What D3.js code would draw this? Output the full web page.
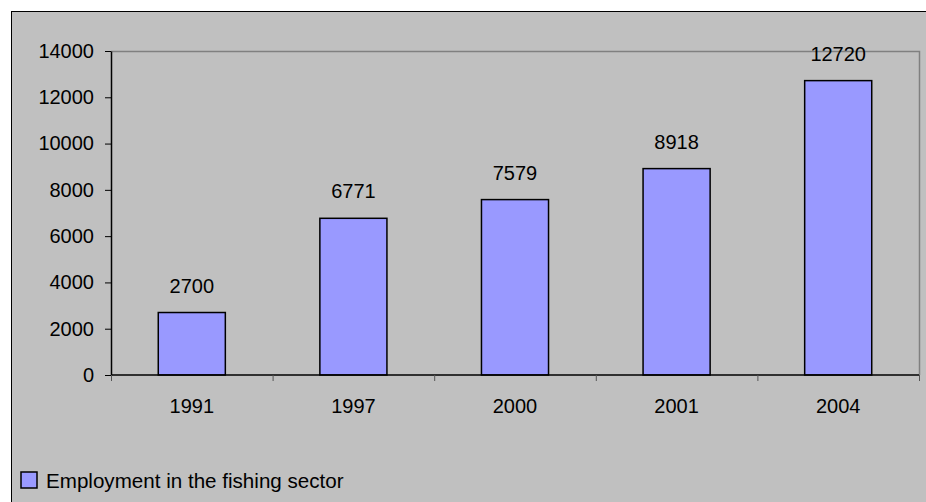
<!DOCTYPE html>
<html>
<head>
<meta charset="utf-8">
<script src="https://cdn.jsdelivr.net/npm/d3@7"></script>
<style>
body { margin: 0; background: #fff; }
svg { display: block; font-family: "Liberation Sans", Arial, sans-serif; }
</style>
</head>
<body>
<script>
// chart data
var years = ["1991", "1997", "2000", "2001", "2004"];
var employment = [2700, 6771, 7579, 8918, 12720];
var yTicks = [0, 2000, 4000, 6000, 8000, 10000, 12000, 14000];
var seriesName = "Employment in the fishing sector";

var w = 926, h = 502;
var plotL = 111, plotR = 919, plotT = 51, plotB = 375;

var svg = d3.select("body").append("svg")
  .attr("width", w)
  .attr("height", h);

// grey chart area, only top and left edges visible
svg.append("rect")
  .attr("x", 11.5).attr("y", 11.5)
  .attr("width", w).attr("height", h)
  .attr("fill", "#c0c0c0")
  .attr("stroke", "#000")
  .attr("stroke-width", 1);

var x = d3.scaleBand()
  .domain(years)
  .range([plotL, plotR])
  .paddingInner(0.585)
  .paddingOuter(0.2925);

var y = d3.scaleLinear()
  .domain([0, 14000])
  .range([plotB, plotT]);

// plot frame (top + right in grey)
svg.append("path")
  .attr("d", `M${plotL},${plotT + 0.5}H${plotR + 0.5}V${plotB}`)
  .attr("fill", "none")
  .attr("stroke", "#808080")
  .attr("stroke-width", 1.5);

// bars
svg.append("g")
  .selectAll("rect")
  .data(employment)
  .join("rect")
  .attr("x", (d, i) => x(years[i]))
  .attr("y", d => y(d))
  .attr("width", x.bandwidth())
  .attr("height", d => y(0) - y(d))
  .attr("fill", "#9999ff")
  .attr("stroke", "#000")
  .attr("stroke-width", 1.5);

// value labels
svg.append("g")
  .selectAll("text")
  .data(employment)
  .join("text")
  .attr("x", (d, i) => x(years[i]) + x.bandwidth() / 2)
  .attr("y", d => y(d) - 20)
  .attr("text-anchor", "middle")
  .attr("font-size", 20)
  .attr("fill", "#000")
  .text(d => d);

// y axis
var yAxis = svg.append("g")
  .attr("transform", `translate(${plotL},0)`)
  .call(d3.axisLeft(y).tickValues(yTicks).tickFormat(d3.format("d"))
    .tickSize(6).tickPadding(11).tickSizeOuter(0));
yAxis.selectAll("text").attr("font-size", 20).attr("fill", "#000")
  .attr("font-family", "Liberation Sans, Arial, sans-serif");
yAxis.selectAll("line").attr("stroke", "#000");
yAxis.select(".domain").attr("stroke", "#000").attr("stroke-width", 1.5);

// x axis: ticks sit on category boundaries
var step = x.step();
var xg = svg.append("g")
  .attr("transform", `translate(0,${plotB})`);
xg.append("line")
  .attr("x1", plotL).attr("x2", plotR)
  .attr("stroke", "#000").attr("stroke-width", 1.5);
xg.selectAll("line.tick")
  .data(d3.range(years.length + 1))
  .join("line")
  .attr("class", "tick")
  .attr("x1", i => plotL + i * step + 0.5)
  .attr("x2", i => plotL + i * step + 0.5)
  .attr("y1", 0).attr("y2", 6)
  .attr("stroke", "#555");
xg.selectAll("text")
  .data(years)
  .join("text")
  .attr("x", d => x(d) + x.bandwidth() / 2)
  .attr("y", 38)
  .attr("text-anchor", "middle")
  .attr("font-size", 20)
  .attr("fill", "#000")
  .text(d => d);

// legend
var lg = svg.append("g").attr("transform", "translate(21,472)");
lg.append("rect")
  .attr("width", 16).attr("height", 16)
  .attr("fill", "#9999ff")
  .attr("stroke", "#000").attr("stroke-width", 1.5);
lg.append("text")
  .attr("x", 25).attr("y", 16)
  .attr("font-size", 20.6)
  .attr("fill", "#000")
  .text(seriesName);
</script>
</body>
</html>
